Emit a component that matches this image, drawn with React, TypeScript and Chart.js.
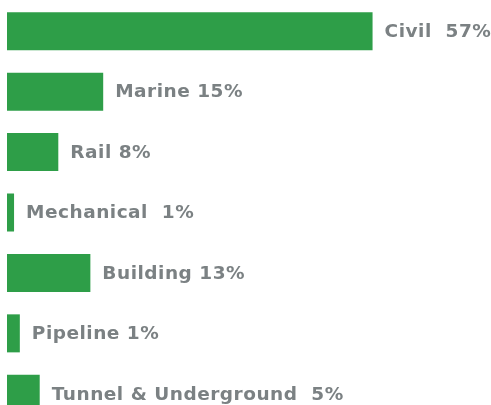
import React, { useEffect, useRef } from "react";
import { Chart, registerables } from "chart.js";

Chart.register(...registerables);

const categories = ["Civil", "Marine", "Rail", "Mechanical", "Building", "Pipeline", "Tunnel & Underground"];
const barValues = [57, 15, 8, 1.1, 13, 2, 5.1];
const percentLabels = ["57%", "15%", "8%", "1%", "13%", "1%", "5%"];
const nameGaps = ["  ", " ", " ", "  ", " ", " ", "  "];

const labelPlugin = {
  id: "barLabels",
  afterDatasetsDraw(chart: any) {
    const ctx = chart.ctx;
    const meta = chart.getDatasetMeta(0);
    ctx.save();
    ctx.font = "bold 18.5px 'DejaVu Sans'";
    try {
      (ctx as any).letterSpacing = "0.5px";
    } catch (e) {}
    ctx.fillStyle = "#7b8183";
    ctx.textBaseline = "middle";
    ctx.textAlign = "left";
    meta.data.forEach((bar: any, i: number) => {
      const text = categories[i] + nameGaps[i] + percentLabels[i];
      ctx.fillText(text, bar.x + 12, bar.y + 1);
    });
    ctx.restore();
  },
};

export default function App() {
  const ref = useRef<HTMLCanvasElement | null>(null);
  useEffect(() => {
    if (!ref.current) return;
    const chart = new Chart(ref.current, {
      type: "bar",
      data: {
        labels: categories,
        datasets: [
          {
            data: barValues,
            backgroundColor: "#2e9e48",
            borderWidth: 0,
            categoryPercentage: 1,
            barPercentage: 0.629,
          },
        ],
      },
      options: {
        indexAxis: "y",
        animation: false,
        responsive: true,
        maintainAspectRatio: false,
        layout: { padding: { left: 7, right: 3, top: 1, bottom: 0 } },
        plugins: { legend: { display: false }, tooltip: { enabled: false } },
        scales: {
          x: { display: false, min: 0, max: 75 },
          y: { display: false },
        },
      },
      plugins: [labelPlugin],
    });
    return () => chart.destroy();
  }, []);
  return (
    <div style={{ position: "absolute", left: 0, top: 0, width: 491, height: 424 }}>
      <canvas ref={ref} />
    </div>
  );
}
